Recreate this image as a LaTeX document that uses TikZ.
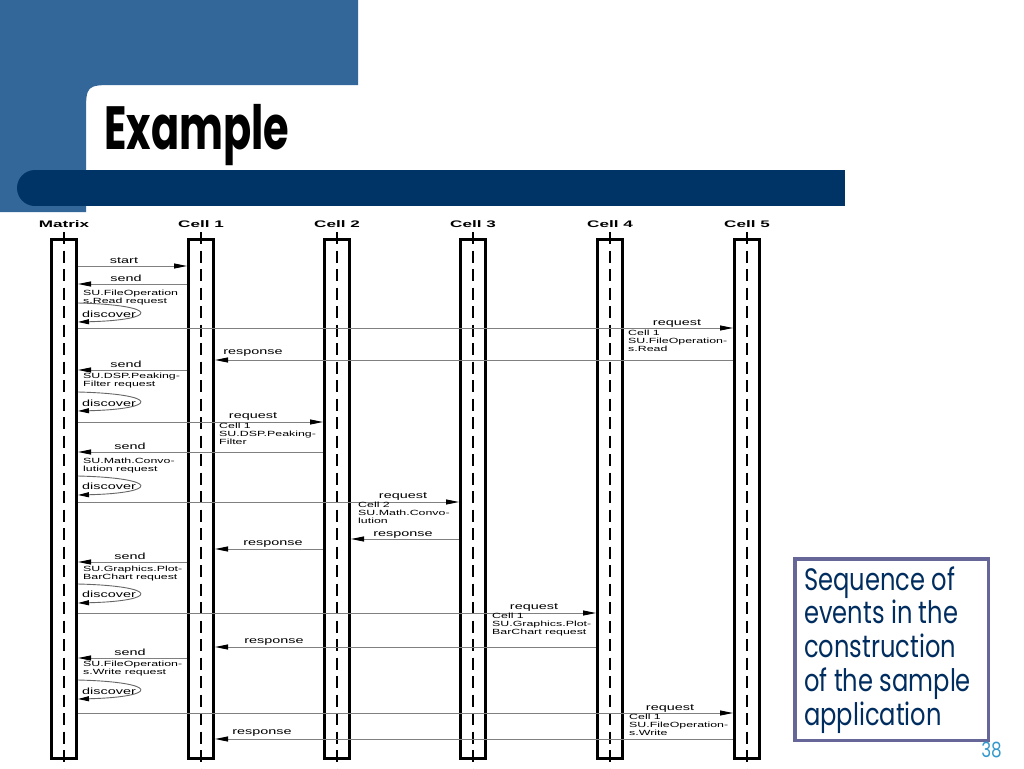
\documentclass[tikz,border=0pt]{standalone}
\usepackage{fontspec}
\usepackage{graphicx}
\setmainfont{Liberation Sans}
\newfontfamily\geofont{Poppins}
\usetikzlibrary{arrows.meta}
\definecolor{topblue}{RGB}{51,102,153}
\definecolor{darkbar}{RGB}{0,51,102}
\definecolor{boxborder}{RGB}{102,102,153}
\definecolor{boxtext}{RGB}{0,45,95}
\definecolor{pagecol}{RGB}{51,153,204}
\newcommand\wx[1]{\scalebox{1.6}[1]{#1}}
\newcommand\wh[1]{\scalebox{1.8}[1]{#1}}
\newcommand\wn[1]{\scalebox{1.65}[1]{\begin{tabular}[t]{@{}l@{}}#1\end{tabular}}}
\tikzset{
  lifebox/.style={draw, line width=3pt, minimum width=25pt, minimum height=519pt, inner sep=0pt},
  lifedash/.style={line width=2pt, dash pattern=on 12pt off 6.5pt},
  msg/.style={draw=black!50, line width=0.9pt, -{Triangle[length=13pt,width=5pt,color=black]}},
  loopmsg/.style={draw=black!60, line width=0.9pt, -{Triangle[length=11pt,width=5pt,color=black]}},
  head/.style={font=\bfseries\fontsize{9.5}{10}\selectfont, inner sep=0pt, anchor=base},
  lbl/.style={font=\fontsize{9}{10}\selectfont, inner sep=0pt, anchor=base},
  dlbl/.style={font=\fontsize{9}{10}\selectfont, inner sep=0pt, anchor=base west},
  note/.style={font=\fontsize{7.5}{8.1}\selectfont, inner sep=0pt, anchor=base west},
}
\begin{document}
\begin{tikzpicture}[x=1pt,y=-1pt]
\useasboundingbox (0,0) rectangle (1024,768);
\fill[white] (0,0) rectangle (1024,768);
% header
\fill[topblue] (0,0) -- (358,0) -- (358,85) -- (116,85) .. controls (86,85) .. (86,115) -- (86,212) -- (0,212) -- cycle;
\fill[darkbar] (35,170) rectangle (845,206);
\fill[darkbar] (35,188) circle[radius=18];
\node[anchor=base west, inner sep=0pt] (title) at (104,149)
  {\geofont\bfseries\fontsize{61}{61}\selectfont\scalebox{0.68}[1]{Example}};
% lifelines
\foreach \n/\x/\t in {0/64/Matrix,1/201/Cell 1,2/337/Cell 2,3/473/Cell 3,4/610/Cell 4,5/747/Cell 5}{
  \node[lifebox] (L\n) at (\x,499) {};
  \draw[lifedash] ([yshift=6pt]L\n.north) -- ([yshift=-12pt]L\n.south);
  \node[head] (H\n) at (\x,227.5) {\wh{\t}};
}
% 1 start
\draw[msg] (L0.east |- 0,266) -- (L1.west |- 0,266);
\node[lbl] (t1) at (124,263) {\wx{start}};
% 2 send
\draw[msg] (L1.west |- 0,284) -- (L0.east |- 0,284);
\node[lbl] (t2) at (126,281) {\wx{send}};
\node[note] (n2) at (83,295.5) {\wn{SU.FileOperation\\s.Read request}};
\draw[loopmsg] (L0.east |- 0,303) .. controls (160,305) and (160,320) .. (L0.east |- 0,322);
\node[dlbl] (d1) at (82,317.5) {\wx{discover}};
% 3 request to Cell 5
\draw[msg] (L0.east |- 0,328) -- (L5.west |- 0,328);
\node[lbl] (t3) at (677,325) {\wx{request}};
\node[note] (n3) at (628,335.5) {\wn{Cell 1\\SU.FileOperation-\\s.Read}};
% 4 response
\draw[msg] (L5.west |- 0,360) -- (L1.east |- 0,360);
\node[lbl] (t4) at (253,354) {\wx{response}};
% 5 send
\draw[msg] (L1.west |- 0,370) -- (L0.east |- 0,370);
\node[lbl] (t5) at (126,367) {\wx{send}};
\node[note] (n5) at (83,378.5) {\wn{SU.DSP.Peaking-\\Filter request}};
\draw[loopmsg] (L0.east |- 0,392) .. controls (160,394) and (160,409) .. (L0.east |- 0,411);
\node[dlbl] (d2) at (82,406.5) {\wx{discover}};
% 6 request to Cell 2
\draw[msg] (L0.east |- 0,422) -- (L2.west |- 0,422);
\node[lbl] (t6) at (253,418) {\wx{request}};
\node[note] (n6) at (219,428.5) {\wn{Cell 1\\SU.DSP.Peaking-\\Filter}};
% 7 send from Cell 2
\draw[msg] (L2.west |- 0,452) -- (L0.east |- 0,452);
\node[lbl] (t7) at (130,449) {\wx{send}};
\node[note] (n7) at (83,463.5) {\wn{SU.Math.Convo-\\lution request}};
\draw[loopmsg] (L0.east |- 0,476) .. controls (160,478) and (160,493) .. (L0.east |- 0,495);
\node[dlbl] (d3) at (82,489.5) {\wx{discover}};
% 8 request to Cell 3
\draw[msg] (L0.east |- 0,502) -- (L3.west |- 0,502);
\node[lbl] (t8) at (403,498) {\wx{request}};
\node[note] (n8) at (358,507.5) {\wn{Cell 2\\SU.Math.Convo-\\lution}};
% 9 responses
\draw[msg] (L3.west |- 0,539) -- (L2.east |- 0,539);
\node[lbl] (t9) at (403,536) {\wx{response}};
\draw[msg] (L2.west |- 0,549) -- (L1.east |- 0,549);
\node[lbl] (t10) at (273,545) {\wx{response}};
% 10 send
\draw[msg] (L1.west |- 0,562) -- (L0.east |- 0,562);
\node[lbl] (t11) at (130,559) {\wx{send}};
\node[note] (n11) at (83,571.5) {\wn{SU.Graphics.Plot-\\BarChart request}};
\draw[loopmsg] (L0.east |- 0,584) .. controls (160,586) and (160,601) .. (L0.east |- 0,603);
\node[dlbl] (d4) at (82,597.5) {\wx{discover}};
% 11 request to Cell 4
\draw[msg] (L0.east |- 0,613) -- (L4.west |- 0,613);
\node[lbl] (t12) at (534,609) {\wx{request}};
\node[note] (n12) at (492,618.5) {\wn{Cell 1\\SU.Graphics.Plot-\\BarChart request}};
\draw[msg] (L4.west |- 0,647) -- (L1.east |- 0,647);
\node[lbl] (t13) at (274,643) {\wx{response}};
% 12 send
\draw[msg] (L1.west |- 0,658) -- (L0.east |- 0,658);
\node[lbl] (t14) at (130,655) {\wx{send}};
\node[note] (n14) at (83,666.5) {\wn{SU.FileOperation-\\s.Write request}};
\draw[loopmsg] (L0.east |- 0,680) .. controls (160,682) and (160,697) .. (L0.east |- 0,699);
\node[dlbl] (d5) at (82,694.5) {\wx{discover}};
% 13 request to Cell 5
\draw[msg] (L0.east |- 0,713) -- (L5.west |- 0,713);
\node[lbl] (t15) at (670,710) {\wx{request}};
\node[note] (n15) at (629,719.5) {\wn{Cell 1\\SU.FileOperation-\\s.Write}};
\draw[msg] (L5.west |- 0,739) -- (L1.east |- 0,739);
\node[lbl] (t16) at (262,734) {\wx{response}};
% side box
\node[draw=boxborder, line width=3.5pt, minimum width=193.5pt, minimum height=181.5pt, inner sep=0pt] (box) at (891.5,649.5) {};
\node[anchor=base west, inner sep=0pt, text=boxtext] (boxtxt) at (804,590)
  {\geofont\fontsize{31}{33.8}\selectfont\scalebox{0.78}[1]{\begin{tabular}[t]{@{}l@{}}Sequence of\\events in the\\construction\\of the sample\\application\end{tabular}}};
\node[anchor=base east, inner sep=0pt, text=pagecol] (pg) at (1002,757)
  {\geofont\fontsize{21}{21}\selectfont\scalebox{0.8}[1]{38}};
\end{tikzpicture}
\end{document}
